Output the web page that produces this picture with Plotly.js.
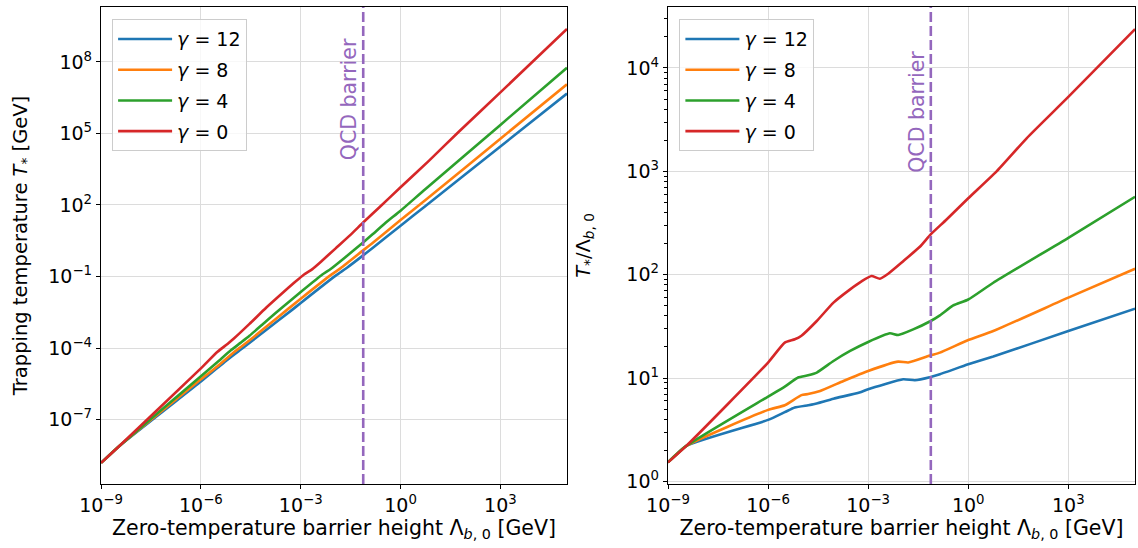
<!DOCTYPE html>
<html>
<head>
<meta charset="utf-8">
<script src="https://cdn.plot.ly/plotly-3.0.1.min.js"></script>
<style>
  html, body { margin: 0; padding: 0; background: #fff; }
  #chart { width: 1138px; height: 548px; }
</style>
</head>
<body>
<div id="chart"></div>
<script>
// ---- data (x: barrier height Λ_b,0 [GeV], y: T*/Λ_b,0) ----
const seriesNames = ["<i>γ</i> = 12", "<i>γ</i> = 8", "<i>γ</i> = 4", "<i>γ</i> = 0"];
const seriesColors = ["#1f77b4", "#ff7f0e", "#2ca02c", "#d62728"];

const lambdaG12 = [1e-9, 3.548e-9, 1e-6, 3.162e-6, 6.31e-6, 1.585e-5, 2.291e-5, 9.12e-5, 5.495e-4, 1e-3, 1.122e-2, 2.512e-2, 0.075, 0.1413, 1, 5.623, 1000, 1e5];
const ratioG12  = [1.528, 2.208, 3.936, 4.677, 5.188, 5.458, 5.585, 6.310, 7.244, 7.798, 9.727, 9.528, 10.26, 10.89, 13.58, 16.14, 28.51, 46.88];

const lambdaG8 = [1e-9, 3.548e-9, 1e-6, 3.162e-6, 1e-5, 1.585e-5, 3.631e-5, 1.82e-4, 1e-3, 7.943e-3, 1.585e-2, 0.075, 0.1413, 1, 5.623, 1000, 1e5];
const ratioG8  = [1.528, 2.208, 4.920, 5.458, 6.839, 6.998, 7.499, 9.376, 11.72, 14.42, 14.13, 16.60, 17.62, 23.33, 28.51, 59.98, 114.3];

const lambdaG4 = [1e-9, 3.548e-9, 1e-6, 3.162e-6, 7.943e-6, 1.585e-5, 2.884e-5, 9.12e-5, 2.884e-4, 1e-3, 4.467e-3, 7.943e-3, 2.239e-2, 0.075, 0.1413, 0.3548, 1, 5.623, 1000, 1e5];
const ratioG4  = [1.528, 2.208, 6.622, 8.279, 10.12, 10.64, 11.30, 14.62, 18.28, 22.34, 27.10, 26.12, 29.58, 35.65, 40.46, 50.47, 57.54, 83.56, 227.5, 567.5];

const lambdaG0 = [1e-9, 3.548e-9, 1e-6, 3.162e-6, 6.31e-6, 1e-5, 2.884e-5, 9.12e-5, 2.884e-4, 6.31e-4, 1.259e-3, 2.239e-3, 3.981e-3, 1.122e-2, 3.548e-2, 0.075, 0.2239, 1, 7.079, 56.23, 1000, 1e5];
const ratioG0  = [1.528, 2.208, 14.13, 22.03, 23.71, 25.70, 35.65, 53.70, 72.11, 86.10, 97.05, 91.41, 102.3, 135.2, 186.2, 245.5, 342.0, 549.5, 1000, 2089, 5248, 23770];

const qcdBarrier = 0.0755;           // GeV
const qcdLabel = "QCD barrier";

const xTickVals = [1e-9, 1e-6, 1e-3, 1, 1e3];
const xTickText = ["10<sup>−9</sup>", "10<sup>−6</sup>", "10<sup>−3</sup>", "10<sup>0</sup>", "10<sup>3</sup>"];
const y1TickVals = [1e-7, 1e-4, 1e-1, 1e2, 1e5, 1e8];
const y1TickText = ["10<sup>−7</sup>", "10<sup>−4</sup>", "10<sup>−1</sup>", "10<sup>2</sup>", "10<sup>5</sup>", "10<sup>8</sup>"];
const y2TickVals = [1, 10, 100, 1000, 10000];
const y2TickText = ["10<sup>0</sup>", "10<sup>1</sup>", "10<sup>2</sup>", "10<sup>3</sup>", "10<sup>4</sup>"];
const y2MinorVals = [2, 3, 4, 5, 6, 7, 8, 9, 20, 30, 40, 50, 60, 70, 80, 90, 200, 300, 400, 500, 600, 700, 800, 900,
                     2000, 3000, 4000, 5000, 6000, 7000, 8000, 9000, 20000, 30000];

// ---- build traces ----
const lambdas = [lambdaG12, lambdaG8, lambdaG4, lambdaG0];
const ratios = [ratioG12, ratioG8, ratioG4, ratioG0];
const traces = [];
lambdas.forEach((lam, k) => {
  const tStar = lam.map((l, i) => l * ratios[k][i]); // T* = (T*/Λ) · Λ
  traces.push({
    x: lam, y: tStar, xaxis: "x", yaxis: "y", type: "scatter", mode: "lines",
    name: seriesNames[k], legendgroup: "g" + k, showlegend: true, legend: "legend",
    line: {color: seriesColors[k], width: 2.6, shape: "spline", smoothing: 0.5}
  });
  traces.push({
    x: lam, y: ratios[k], xaxis: "x2", yaxis: "y2", type: "scatter", mode: "lines",
    name: seriesNames[k], legendgroup: "h" + k, showlegend: true, legend: "legend2",
    line: {color: seriesColors[k], width: 2.6, shape: "spline", smoothing: 0.5}
  });
});

const FONT = "DejaVu Sans, sans-serif";
const TICK = 19, TITLE = 19.5, XTITLE = 20.5, LEG = 19;
const gridC = "#dcdcdc";
function xAxis(domain, anchor) {
  return {
    type: "log", domain: domain, anchor: anchor, range: [-9, 5],
    tickvals: xTickVals, ticktext: xTickText, ticks: "outside", ticklen: 4, tickwidth: 1, tickcolor: "#000",
    showline: true, linecolor: "#000", linewidth: 1.2, mirror: true,
    showgrid: true, gridcolor: gridC, gridwidth: 1, zeroline: false,
    tickfont: {family: FONT, size: TICK, color: "#000"},
    title: {text: "Zero-temperature barrier height Λ<sub><i>b</i>, 0</sub> [GeV]", font: {family: FONT, size: XTITLE, color: "#000"}, standoff: 4}
  };
}
const yDomain = [0.1168, 0.9872];
function legendCfg(x) {
  return {
    x: x, y: 0.965, xanchor: "left", yanchor: "top", traceorder: "grouped",
    bgcolor: "rgba(255,255,255,0.8)", bordercolor: "#cccccc", borderwidth: 1,
    font: {family: FONT, size: LEG, color: "#000"}, tracegroupgap: 3, itemwidth: 54
  };
}

const layout = {
  width: 1138, height: 548,
  margin: {l: 0, r: 0, t: 0, b: 0},
  paper_bgcolor: "#fff", plot_bgcolor: "#fff",
  font: {family: FONT, size: 16, color: "#000"},
  xaxis: xAxis([0.0888, 0.4982], "y"),
  xaxis2: xAxis([0.587, 0.9974], "y2"),
  yaxis: {
    type: "log", domain: yDomain, anchor: "x", range: [-9.7, 10.3],
    tickvals: y1TickVals, ticktext: y1TickText, ticks: "outside", ticklen: 4, tickcolor: "#000",
    showline: true, linecolor: "#000", linewidth: 1.2, mirror: true,
    showgrid: true, gridcolor: gridC, zeroline: false,
    tickfont: {family: FONT, size: TICK, color: "#000"},
    title: {text: "Trapping temperature <i>T</i><sub>*</sub> [GeV]", font: {family: FONT, size: TITLE, color: "#000"}, standoff: 15}
  },
  yaxis2: {
    type: "log", domain: yDomain, anchor: "x2", range: [-0.025, 4.59],
    tickvals: y2TickVals, ticktext: y2TickText, ticks: "outside", ticklen: 4, tickcolor: "#000",
    showline: true, linecolor: "#000", linewidth: 1.2, mirror: true,
    showgrid: true, gridcolor: gridC, zeroline: false,
    minor: {tickmode: "array", tickvals: y2MinorVals, ticks: "outside", ticklen: 2.5, tickcolor: "#000", showgrid: false},
    tickfont: {family: FONT, size: TICK, color: "#000"},
    title: {text: "<i>T</i><sub>*</sub>/Λ<sub><i>b</i>, 0</sub>", font: {family: FONT, size: TITLE, color: "#000"}, standoff: 30}
  },
  legend: legendCfg(0.0985),
  legend2: legendCfg(0.597),
  shapes: [
    {type: "line", xref: "x", yref: "y domain", x0: qcdBarrier, x1: qcdBarrier, y0: 0, y1: 1,
     line: {color: "#9467bd", width: 2.6, dash: "10px,4px"}},
    {type: "line", xref: "x2", yref: "y2 domain", x0: qcdBarrier, x1: qcdBarrier, y0: 0, y1: 1,
     line: {color: "#9467bd", width: 2.6, dash: "10px,4px"}}
  ],
  annotations: [
    {xref: "x", yref: "paper", x: Math.log10(qcdBarrier), y: 1 - 36 / 548, text: qcdLabel, textangle: -90,
     showarrow: false, xanchor: "right", yanchor: "top", font: {family: FONT, size: 20.5, color: "#9467bd"}, xshift: 0},
    {xref: "x2", yref: "paper", x: Math.log10(qcdBarrier), y: 1 - 49 / 548, text: qcdLabel, textangle: -90,
     showarrow: false, xanchor: "right", yanchor: "top", font: {family: FONT, size: 20.5, color: "#9467bd"}, xshift: 0}
  ],
  showlegend: true
};

Plotly.newPlot("chart", traces, layout, {displayModeBar: false, staticPlot: true});
</script>
</body>
</html>
